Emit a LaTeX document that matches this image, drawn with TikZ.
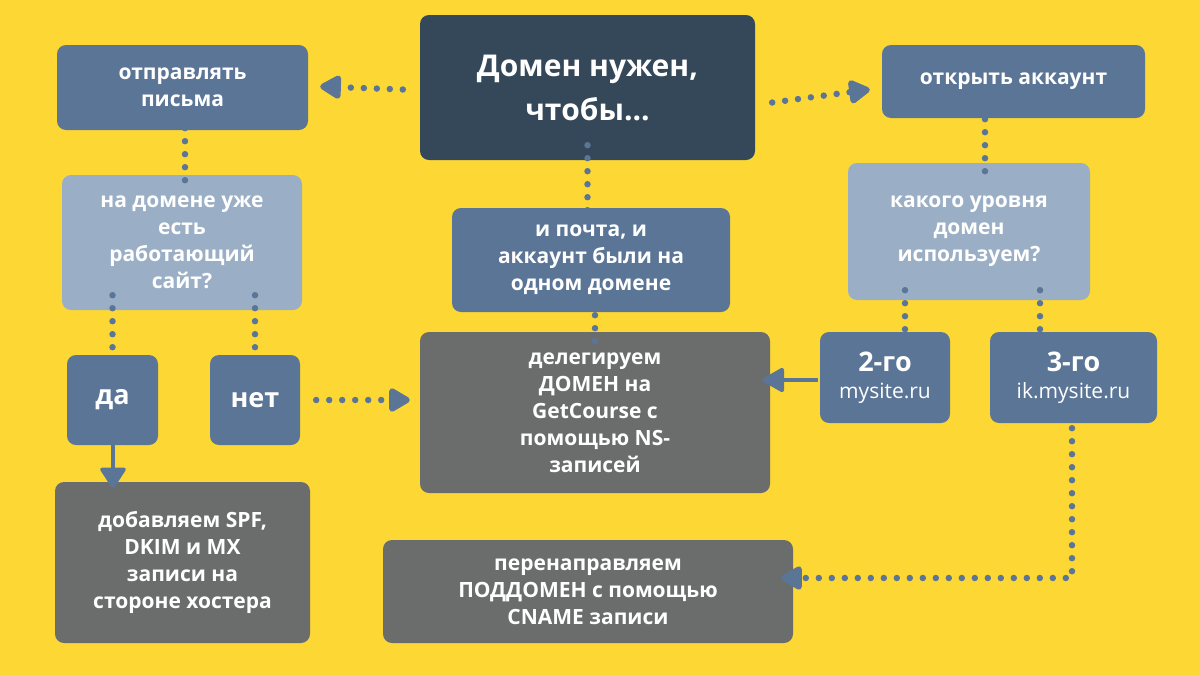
\documentclass[tikz,border=0pt]{standalone}
\usepackage{fontspec}
\setmainfont{Open Sans}
\usetikzlibrary{arrows.meta}
\definecolor{bg}{HTML}{FDD835}
\definecolor{dk}{HTML}{344859}
\definecolor{bl}{HTML}{5B7596}
\definecolor{lb}{HTML}{9AAFC5}
\definecolor{gr}{HTML}{6B6C6C}
\tikzset{
 bx/.style={fill=#1,rounded corners=9pt,text=white,font=\bfseries\fontsize{21}{27}\selectfont,align=center,inner sep=0pt},
 dots/.style={draw=bl,line width=6.5pt,line cap=round,dash pattern=on 0pt off 13pt},
 tip/.style={dots,-{Triangle[length=24pt,width=26pt,round]}},
}
\newcommand{\bxat}[6]{\node[bx=#5,minimum width=#3-#1,minimum height=#4-#2] (#6) at ({(#1+#3)/2},{(#2+#4)/2}) {};}
\begin{document}
\begin{tikzpicture}[x=1pt,y=-1pt]
\fill[bg] (0,0) rectangle (1200,675);
\useasboundingbox (0,0) rectangle (1200,675);
\bxat{420}{15}{755}{160}{dk}{main}
\node[text=white,font=\bfseries\fontsize{30}{44}\selectfont,align=center] at (main) {Домен нужен,\\чтобы...};
\bxat{57}{45}{308}{130}{bl}{send}
\node[bx=bl] at (send) {отправлять\\письма};
\bxat{882}{45}{1145}{118}{bl}{open}
\node[bx=bl] at (open) {открыть аккаунт};
\bxat{62}{175}{302}{310}{lb}{q1}
\node[bx=lb,fill=none] at (q1) {на домене уже\\есть\\работающий\\сайт?};
\bxat{452}{208}{730}{312}{bl}{mid}
\node[bx=bl,fill=none] at (mid) {и почта, и\\аккаунт были на\\одном домене};
\bxat{848}{163}{1090}{300}{lb}{q2}
\node[bx=lb,fill=none] at (q2) {какого уровня\\домен\\используем?};
\bxat{67}{355}{158}{445}{bl}{da}
\node[bx=bl,fill=none,font=\bfseries\fontsize{27}{30}\selectfont] at (da) {да};
\bxat{210}{355}{300}{445}{bl}{net}
\node[bx=bl,fill=none,font=\bfseries\fontsize{27}{30}\selectfont] at (net) {нет};
\bxat{420}{332}{770}{493}{gr}{del}
\node[bx=gr,fill=none] at (del) {делегируем\\ДОМЕН на\\GetCourse с\\помощью NS-\\записей};
\bxat{820}{332}{950}{423}{bl}{l2}
\node[bx=bl,fill=none,align=center] at (l2) {{\fontsize{27}{34}\selectfont 2-го}\\{\mdseries mysite.ru}};
\bxat{990}{332}{1157}{423}{bl}{l3}
\node[bx=bl,fill=none] at (l3) {{\fontsize{27}{34}\selectfont 3-го}\\{\mdseries ik.mysite.ru}};
\bxat{55}{482}{310}{643}{gr}{add}
\node[bx=gr,fill=none] at (add) {добавляем SPF,\\DKIM и MX\\записи на\\стороне хостера};
\bxat{383}{540}{793}{643}{gr}{red}
\node[bx=gr,fill=none] at (red) {перенаправляем\\ПОДДОМЕН с помощью\\CNAME записи};
% connectors
\draw[tip] ([xshift=-17pt,yshift=-2pt]main.west) -- ([xshift=12pt,yshift=1pt]send.east);
\draw[tip] ([xshift=17pt,yshift=-15pt]main.east) -- ([xshift=-12pt,yshift=-8pt]open.west);
\draw[dots] ([yshift=15pt]send.south -| 185,0) -- ([yshift=-12pt]q1.north -| 185,0);
\draw[dots] ([yshift=15pt]main.south) -- ([yshift=-14pt]mid.north -| main.south);
\draw[dots] ([yshift=10pt]mid.south -| 595,0) -- ([yshift=-10pt]del.north -| 595,0);
\draw[dots] ([yshift=12pt]open.south -| 985,0) -- ([yshift=-12pt]q2.north -| 985,0);
\draw[dots] ([yshift=15pt]q1.south -| da.north) -- ([yshift=-15pt]da.north);
\draw[dots] ([yshift=15pt]q1.south -| net.north) -- ([yshift=-15pt]net.north);
\draw[dots] ([yshift=10pt]q2.south -| 905,0) -- ([yshift=-10pt]l2.north -| 905,0);
\draw[dots] ([yshift=10pt]q2.south -| 1040,0) -- ([yshift=-10pt]l3.north -| 1040,0);
\draw[tip] ([xshift=16pt]net.east) -- ([xshift=-10pt]del.west |- net.east);
\draw[-{Triangle[length=24pt,width=26pt,round]},draw=bl,fill=bl,line width=4pt] ([xshift=-2pt]l2.west |- 0,380) -- ([xshift=-8pt]del.east |- 0,380);
\draw[-{Triangle[length=22pt,width=28pt,round]},draw=bl,fill=bl,line width=4pt] ([yshift=8pt]da.south -| 113,0) -- ([yshift=-6pt]add.north -| 113,0);
\coordinate (c1) at (1072,578);
\draw[tip] ([yshift=8pt]l3.south -| 1072,0) -- (c1) -- ([xshift=-12pt]red.east |- c1);
\end{tikzpicture}
\end{document}
